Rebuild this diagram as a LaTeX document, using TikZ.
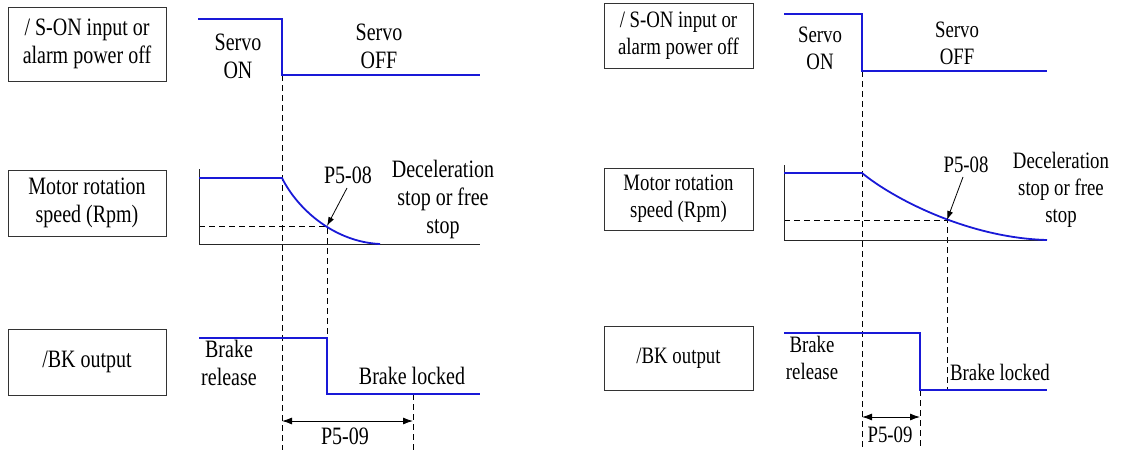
\documentclass[tikz,border=0pt]{standalone}
\usepackage{fontspec}
\setmainfont{Liberation Serif}[FakeStretch=0.8]
\usetikzlibrary{arrows.meta}
\definecolor{sigblue}{RGB}{25,25,215}

\tikzset{
  sigbox/.style={draw=black!80, line width=0.8pt, align=center, inner sep=0pt},
  wave/.style={draw=sigblue, line width=1.8pt, line join=miter},
  guide/.style={line width=0.7pt, dash pattern=on 6pt off 4pt},
  axisline/.style={line width=0.8pt, black!85},
  lbl/.style={align=center, inner sep=0pt},
  big/.style={font=\fontsize{25}{28}\selectfont},
  small/.style={font=\fontsize{23.5}{27}\selectfont},
}

\begin{document}
\begin{tikzpicture}[x=1pt, y=-1pt]
  \useasboundingbox (0,0) rectangle (1136,450);

  % left diagram
  \begin{scope}[big]
    \node[sigbox, minimum width=158pt, minimum height=74pt] (sonL) at (87,44) {/ S-ON input or\\alarm power off};
    \node[sigbox, minimum width=158pt, minimum height=66pt] (spdL) at (87,203) {Motor rotation\\speed (Rpm)};
    \node[sigbox, minimum width=158pt, minimum height=66pt] (bkL) at (87,362) {/BK output};

    \node[lbl] (onL)  at (238,56) {Servo\\ON};
    \node[lbl] (offL) at (379,46) {Servo\\OFF};
    \node[lbl] (p08L) at (348,175) {P5-08};
    \node[lbl] (decL) at (443,199) {Deceleration\\stop or free\\stop};
    \node[lbl] (relL) at (229,363) {Brake\\release};
    \node[lbl] (lockL) at (412,376) {Brake locked};
    \node[lbl] (p09L) at (345,436) {P5-09};
  \end{scope}

  \coordinate (hitL) at (327,226);
  \coordinate (dimL1) at (282,421);
  \coordinate (dimL2) at (413,421);

  % guides
  \draw[guide] (282,75) -- (282,450);
  \draw[guide] (199,226) -- (hitL) -- (327,338);
  \draw[guide] (413,394) -- (413,450);
  \draw[axisline] (199,169) -- (199,244) -- (480,244);

  % signals
  \draw[wave] (198,19) -- (282,19) -- (282,75) -- (480,75);
  \draw[wave] (199,178) -- (282,178) .. controls (298,210) and (335,242) .. (380,244);
  \draw[wave] (199,338) -- (327,338) -- (327,394) -- (480,394);

  \draw[line width=0.8pt, -{Latex[length=9pt, width=6pt]}] (347,188) -- (hitL);
  \draw[line width=0.9pt, {Latex[length=10pt, width=7pt]}-{Latex[length=10pt, width=7pt]}] (dimL1) -- (dimL2);

  % right diagram
  \begin{scope}[small]
    \node[sigbox, minimum width=149pt, minimum height=65pt] (sonR) at (678.5,35.5) {/ S-ON input or\\alarm power off};
    \node[sigbox, minimum width=149pt, minimum height=62pt] (spdR) at (678.5,199) {Motor rotation\\speed (Rpm)};
    \node[sigbox, minimum width=149pt, minimum height=64pt] (bkR) at (678.5,358) {/BK output};

    \node[lbl] (onR)  at (820,48) {Servo\\ON};
    \node[lbl] (offR) at (957,43) {Servo\\OFF};
    \node[lbl] (p08R) at (966,165) {P5-08};
    \node[lbl] (decR) at (1061,190) {Deceleration\\stop or free\\stop};
    \node[lbl] (relR) at (812,358) {Brake\\release};
    \node[lbl] (lockR) at (1000,372) {Brake locked};
    \node[lbl] (p09R) at (890,435) {P5-09};
  \end{scope}

  \coordinate (hitR) at (947,220);
  \coordinate (dimR1) at (862,417);
  \coordinate (dimR2) at (920,417);

  % guides
  \draw[guide] (862,71) -- (862,447);
  \draw[guide] (784,220) -- (hitR) -- (947,390);
  \draw[guide] (920,390) -- (920,447);
  \draw[axisline] (784,165) -- (784,240) -- (1047,240);

  % signals
  \draw[wave] (784,14) -- (862,14) -- (862,71) -- (1047,71);
  \draw[wave] (784,173) -- (862,173) .. controls (895,200) and (970,238) .. (1047,240);
  \draw[wave] (784,333) -- (920,333) -- (920,390) -- (1047,390);

  \draw[line width=0.8pt, -{Latex[length=9pt, width=6pt]}] (963,177) -- (hitR);
  \draw[line width=0.9pt, {Latex[length=10pt, width=7pt]}-{Latex[length=10pt, width=7pt]}] (dimR1) -- (dimR2);
\end{tikzpicture}
\end{document}
